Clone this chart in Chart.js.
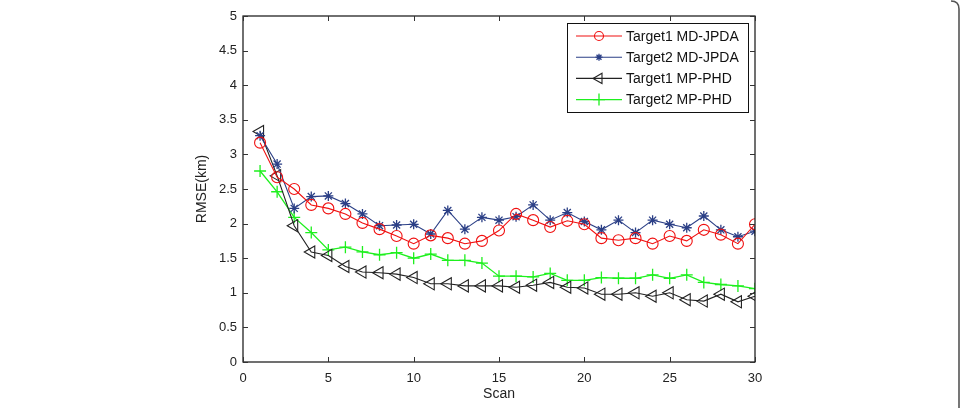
<!DOCTYPE html>
<html>
<head>
<meta charset="utf-8">
<script src="https://cdn.jsdelivr.net/npm/chart.js@4/dist/chart.umd.min.js"></script>
<style>
  html, body { margin: 0; padding: 0; background: #fff; }
  canvas { display: block; }
</style>
</head>
<body>
<canvas id="myChart" width="965" height="408"></canvas>
<script>
var scans = [1,2,3,4,5,6,7,8,9,10,11,12,13,14,15,16,17,18,19,20,21,22,23,24,25,26,27,28,29,30];

var t1MDJPDA = [3.17,2.67,2.50,2.27,2.22,2.14,2.01,1.92,1.82,1.71,1.83,1.79,1.71,1.75,1.90,
                2.14,2.05,1.95,2.04,1.99,1.79,1.76,1.79,1.71,1.82,1.75,1.91,1.84,1.71,1.99];
var t2MDJPDA = [3.27,2.86,2.22,2.39,2.40,2.29,2.14,1.97,1.98,1.99,1.85,2.19,1.92,2.09,2.05,
                2.10,2.27,2.05,2.16,2.03,1.91,2.05,1.87,2.05,1.99,1.94,2.11,1.91,1.81,1.89];
var t1MPPHD = [3.33,2.69,1.97,1.59,1.54,1.38,1.30,1.29,1.27,1.22,1.13,1.13,1.10,1.10,1.10,
               1.08,1.11,1.15,1.08,1.07,0.98,0.98,1.00,0.95,1.00,0.90,0.88,0.98,0.87,0.95];
var t2MPPHD = [2.76,2.46,2.09,1.87,1.62,1.66,1.59,1.55,1.58,1.50,1.56,1.47,1.47,1.43,1.24,
               1.24,1.23,1.28,1.18,1.18,1.22,1.21,1.21,1.26,1.21,1.26,1.15,1.12,1.10,1.06];

var seriesNames = ['Target1 MD-JPDA', 'Target2 MD-JPDA', 'Target1 MP-PHD', 'Target2 MP-PHD'];

var FONT = 'Liberation Sans, Arial, Helvetica, sans-serif';

function pts(vals) {
  return vals.map(function (v, i) { return { x: scans[i], y: v }; });
}

// matlab style box with inward ticks + legend box
var matlabBox = {
  id: 'matlabBox',
  afterDraw: function (chart) {
    var ctx = chart.ctx, a = chart.chartArea;
    var xs = chart.scales.x, ys = chart.scales.y;
    ctx.save();
    ctx.strokeStyle = '#111';
    ctx.lineWidth = 1.2;
    ctx.strokeRect(a.left, a.top, a.right - a.left, a.bottom - a.top);
    ctx.lineWidth = 1;
    ctx.strokeStyle = '#333';
    var tl = 5;
    ctx.beginPath();
    xs.ticks.forEach(function (t) {
      var px = Math.round(xs.getPixelForValue(t.value)) + 0.5;
      ctx.moveTo(px, a.bottom); ctx.lineTo(px, a.bottom - tl);
      ctx.moveTo(px, a.top); ctx.lineTo(px, a.top + tl);
    });
    ys.ticks.forEach(function (t) {
      var py = Math.round(ys.getPixelForValue(t.value)) + 0.5;
      ctx.moveTo(a.left, py); ctx.lineTo(a.left + tl, py);
      ctx.moveTo(a.right, py); ctx.lineTo(a.right - tl, py);
    });
    ctx.stroke();

    // legend
    var lx = 567, ly = 23, lw = 181, lh = 89;
    ctx.fillStyle = '#fff';
    ctx.fillRect(lx, ly, lw, lh);
    ctx.strokeStyle = '#111';
    ctx.lineWidth = 1;
    ctx.strokeRect(lx + 0.5, ly + 0.5, lw, lh);
    ctx.font = '14px ' + FONT;
    ctx.textBaseline = 'middle';
    ctx.textAlign = 'left';
    chart.data.datasets.forEach(function (ds, i) {
      var y = 36 + i * 21.2;
      ctx.strokeStyle = ds.borderColor;
      ctx.lineWidth = ds.borderWidth;
      ctx.beginPath();
      ctx.moveTo(576, y); ctx.lineTo(622, y);
      ctx.stroke();
      ctx.fillStyle = ds.pointBackgroundColor;
      ctx.strokeStyle = ds.pointBorderColor;
      ctx.lineWidth = ds.pointBorderWidth;
      Chart.helpers.drawPoint(ctx, {
        pointStyle: ds.pointStyle,
        rotation: ds.pointRotation || 0,
        radius: ds.legendRadius,
        borderWidth: ds.pointBorderWidth
      }, 599, y);
      ctx.fillStyle = '#111';
      ctx.fillText(ds.label, 626, y + 1);
    });

    // page frame on the right
    ctx.strokeStyle = '#555';
    ctx.lineWidth = 1.6;
    ctx.beginPath();
    ctx.moveTo(951, 1);
    ctx.quadraticCurveTo(959, 1, 959, 9);
    ctx.lineTo(959, 408);
    ctx.stroke();
    ctx.restore();
  }
};

var ctx = document.getElementById('myChart').getContext('2d');
var rmseChart = new Chart(ctx, {
  type: 'line',
  data: {
    datasets: [{
      label: seriesNames[0],
      data: pts(t1MDJPDA),
      borderColor: '#f01010',
      borderWidth: 1.1,
      pointStyle: 'circle',
      pointRadius: 5.5,
      legendRadius: 4.5,
      pointBorderColor: '#f01010',
      pointBackgroundColor: 'rgba(0,0,0,0)',
      pointBorderWidth: 1.1
    }, {
      label: seriesNames[1],
      data: pts(t2MDJPDA),
      borderColor: '#2b3f86',
      borderWidth: 1.1,
      pointStyle: 'star',
      pointRadius: 5,
      legendRadius: 3.5,
      pointBorderColor: '#2b3f86',
      pointBackgroundColor: '#2b3f86',
      pointBorderWidth: 1.3
    }, {
      label: seriesNames[2],
      data: pts(t1MPPHD),
      borderColor: '#222',
      borderWidth: 1.1,
      pointStyle: 'triangle',
      pointRotation: -90,
      pointRadius: 7,
      legendRadius: 6,
      pointBorderColor: '#222',
      pointBackgroundColor: 'rgba(0,0,0,0)',
      pointBorderWidth: 1.1
    }, {
      label: seriesNames[3],
      data: pts(t2MPPHD),
      borderColor: '#1ef01e',
      borderWidth: 1.3,
      pointStyle: 'cross',
      pointRadius: 6,
      legendRadius: 6,
      pointBorderColor: '#1ef01e',
      pointBackgroundColor: '#1ef01e',
      pointBorderWidth: 1.3
    }]
  },
  options: {
    responsive: false,
    animation: false,
    events: [],
    layout: { padding: { left: 190, right: 210, top: 16, bottom: 1 } },
    plugins: {
      legend: { display: false },
      tooltip: { enabled: false }
    },
    scales: {
      x: {
        type: 'linear',
        min: 0, max: 30,
        grid: { display: false, drawTicks: false },
        border: { display: false },
        ticks: { stepSize: 5, padding: 9, color: '#222', font: { family: FONT, size: 13 } },
        title: { display: true, text: 'Scan', color: '#222', padding: 4, font: { family: FONT, size: 14 } },
        afterFit: function (s) { s.height = 45; }
      },
      y: {
        min: 0, max: 5,
        grid: { display: false, drawTicks: false },
        border: { display: false },
        ticks: {
          stepSize: 0.5, padding: 6, color: '#222', font: { family: FONT, size: 13 },
          callback: function (v) { return String(Math.round(v * 10) / 10); }
        },
        title: { display: true, text: 'RMSE(km)', color: '#222', padding: 4, font: { family: FONT, size: 14 } },
        afterFit: function (s) { s.width = 53; }
      }
    }
  },
  plugins: [matlabBox]
});
</script>
</body>
</html>
